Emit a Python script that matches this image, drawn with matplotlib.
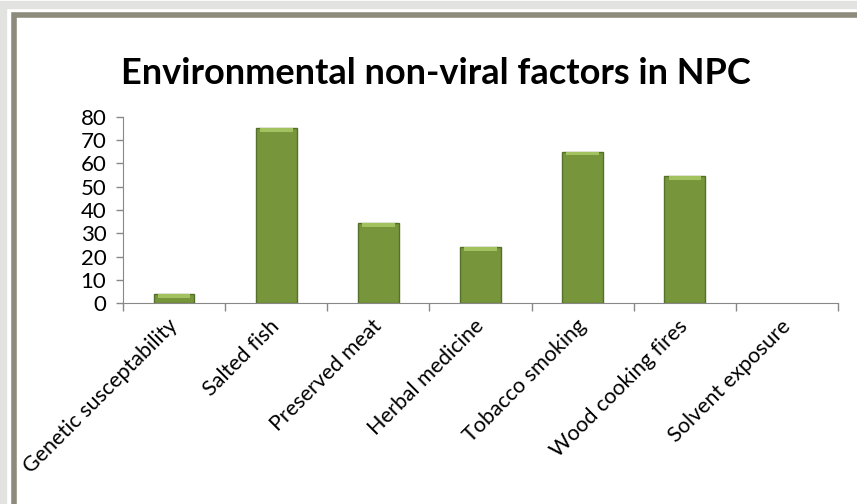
"""
Bar chart of environmental non-viral factors in NPC.
"""

import numpy as np
from matplotlib import pyplot as plt
from matplotlib.patches import Rectangle

categories = ["Genetic susceptability", "Salted fish", "Preserved meat",
              "Herbal medicine", "Tobacco smoking", "Wood cooking fires",
              "Solvent exposure"]
values = [4, 75, 34.5, 24, 65, 54.5, 0]
yticks = [0, 10, 20, 30, 40, 50, 60, 70, 80]

plt.rcParams['font.family'] = ['Lato', 'DejaVu Sans']

fig = plt.figure(figsize=(8.57, 5.04), dpi=100)
fig.patch.set_facecolor('white')

# frame round the slide, cut off at right and bottom
fig.patches.append(Rectangle((0.004, -0.2), 1.2, 1.19, transform=fig.transFigure,
                             facecolor='none', edgecolor='#e2e2e0', linewidth=6, zorder=-2))
fig.patches.append(Rectangle((0.0165, -0.2), 1.2, 1.17, transform=fig.transFigure,
                             facecolor='white', edgecolor='#8d8b7b', linewidth=4, zorder=-1))

ax = fig.add_axes([0.1435, 0.398, 0.978 - 0.1435, 0.7685 - 0.398])
ax.set_facecolor('none')

x = np.arange(len(categories))
vals = np.array(values)
ax.bar(x, vals, width=0.4, color='#77953b', edgecolor='#55702a',
       linewidth=np.where(vals > 0, 1.0, 0.0), zorder=3)
# light bevel at the top of each bar
top = np.minimum(vals, 1.6)
ax.bar(x, top, bottom=vals - top, width=0.32, color='#a2c260', linewidth=0, zorder=4)

ax.set_xlim(-0.5, len(categories) - 0.5)
ax.set_ylim(0, 80)
ax.set_yticks(yticks)
ax.set_yticklabels([str(t) for t in yticks], fontsize=16)

ax.set_xticks(x)
ax.set_xticklabels(categories, rotation=45, ha='right', va='center',
                   rotation_mode='anchor', fontsize=15.5)
ax.tick_params(axis='x', length=0, pad=14)
ax.set_xticks(np.arange(len(categories) + 1) - 0.5, minor=True)
ax.tick_params(axis='x', which='minor', length=6, color='#888888', width=1)
ax.tick_params(axis='y', length=5, color='#888888', width=1, pad=7)

for s in ['top', 'right']:
    ax.spines[s].set_visible(False)
ax.spines['left'].set_color('#888888')
ax.spines['bottom'].set_color('#888888')

fig.text(0.509, 0.855, "Environmental non-viral factors in NPC", ha='center', va='center',
         fontsize=26, fontweight='bold')

plt.savefig("out.png", dpi=100)
